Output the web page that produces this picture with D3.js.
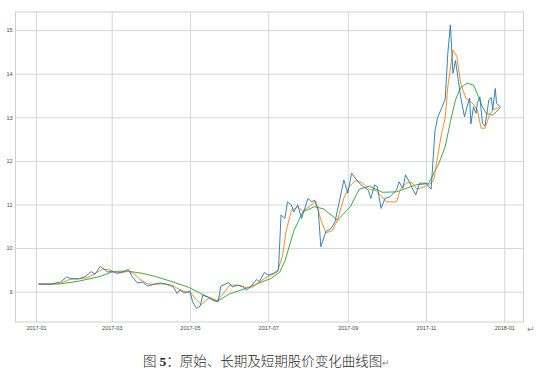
<!DOCTYPE html>
<html>
<head>
<meta charset="utf-8">
<script src="https://cdnjs.cloudflare.com/ajax/libs/d3/7.8.5/d3.min.js"></script>
<style>
  body { margin: 0; background: #fff; }
  svg { display: block; }
  .tick text { font-family: "Liberation Sans", Arial, sans-serif; font-size: 5.5px; fill: #444; }
</style>
</head>
<body>
<svg id="chart" width="543" height="377"></svg>
<script>
  // raw closing price
  var rawDates = ["2017-01-03","2017-01-12","2017-01-20","2017-01-25","2017-01-27","2017-02-03","2017-02-08","2017-02-13",
    "2017-02-16","2017-02-20","2017-02-22","2017-02-26","2017-03-01","2017-03-05","2017-03-09","2017-03-14","2017-03-17",
    "2017-03-21","2017-03-25","2017-03-29","2017-04-04","2017-04-08","2017-04-13","2017-04-18","2017-04-21","2017-04-23",
    "2017-04-27","2017-05-01","2017-05-03","2017-05-06","2017-05-09","2017-05-11","2017-05-15","2017-05-19","2017-05-23",
    "2017-05-25","2017-05-31","2017-06-03","2017-06-07","2017-06-11","2017-06-14","2017-06-17","2017-06-22","2017-06-24",
    "2017-06-28","2017-07-01","2017-07-05","2017-07-09","2017-07-11","2017-07-14","2017-07-16","2017-07-19","2017-07-21",
    "2017-07-24","2017-07-27","2017-08-01","2017-08-04","2017-08-06","2017-08-09","2017-08-11","2017-08-15","2017-08-19",
    "2017-08-22","2017-08-24","2017-08-27","2017-08-29","2017-09-01","2017-09-04","2017-09-06","2017-09-09","2017-09-13",
    "2017-09-17","2017-09-19","2017-09-22","2017-09-24","2017-09-27","2017-09-30","2017-10-04","2017-10-09","2017-10-11",
    "2017-10-14","2017-10-16","2017-10-19","2017-10-22","2017-10-24","2017-10-27","2017-11-01","2017-11-05","2017-11-07",
    "2017-11-08","2017-11-10","2017-11-13","2017-11-16","2017-11-18","2017-11-20","2017-11-22","2017-11-24","2017-11-26",
    "2017-11-28","2017-12-01","2017-12-03","2017-12-05","2017-12-06","2017-12-08","2017-12-10","2017-12-11","2017-12-13",
    "2017-12-15","2017-12-17","2017-12-20","2017-12-22","2017-12-23","2017-12-25","2017-12-26","2017-12-29"];
  var rawValues = [9.18,9.17,9.22,9.34,9.31,9.29,9.34,9.46,
    9.40,9.58,9.54,9.45,9.47,9.42,9.45,9.51,9.35,
    9.20,9.22,9.13,9.18,9.20,9.17,9.11,8.96,9.04,
    8.97,9.02,8.77,8.62,8.67,8.92,8.88,8.80,8.77,
    9.12,9.21,9.11,9.15,9.12,9.04,9.11,9.28,9.23,
    9.44,9.38,9.42,9.50,10.76,10.68,11.06,10.99,10.83,
    10.99,10.68,11.14,11.06,11.10,10.87,10.03,10.38,10.45,
    10.60,10.87,11.29,11.56,11.26,11.72,11.64,11.52,11.41,
    11.33,11.14,11.45,11.41,10.91,11.14,11.18,11.33,11.52,
    11.37,11.68,11.52,11.33,11.22,11.49,11.49,11.35,12.25,
    12.69,12.99,13.20,13.42,14.47,15.12,14.01,14.30,13.89,
    13.47,13.01,13.24,13.44,12.85,13.24,13.09,13.32,13.47,
    12.86,12.80,13.40,13.45,13.17,13.66,13.32,13.24];

  // short term average
  var shortDates = ["2017-01-03","2017-01-12","2017-01-20","2017-01-27","2017-02-03","2017-02-10","2017-02-16","2017-02-22",
    "2017-02-27","2017-03-03","2017-03-08","2017-03-14","2017-03-18","2017-03-23","2017-03-29","2017-04-04","2017-04-10",
    "2017-04-17","2017-04-21","2017-04-26","2017-05-02","2017-05-06","2017-05-10","2017-05-13","2017-05-17","2017-05-22",
    "2017-05-26","2017-06-01","2017-06-07","2017-06-13","2017-06-18","2017-06-23","2017-06-28","2017-07-03","2017-07-08",
    "2017-07-12","2017-07-15","2017-07-19","2017-07-24","2017-07-28","2017-08-02","2017-08-07","2017-08-11","2017-08-15",
    "2017-08-20","2017-08-24","2017-08-29","2017-09-02","2017-09-07","2017-09-12","2017-09-18","2017-09-23","2017-09-27",
    "2017-10-01","2017-10-09","2017-10-12","2017-10-17","2017-10-21","2017-10-25","2017-10-30","2017-11-03","2017-11-07",
    "2017-11-10","2017-11-13","2017-11-16","2017-11-18","2017-11-22","2017-11-25","2017-11-28","2017-12-02","2017-12-07",
    "2017-12-11","2017-12-14","2017-12-17","2017-12-20","2017-12-23","2017-12-27","2017-12-29"];
  var shortValues = [9.18,9.17,9.19,9.28,9.30,9.32,9.42,9.52,
    9.50,9.46,9.43,9.47,9.42,9.28,9.18,9.17,9.18,
    9.15,9.08,9.01,8.96,8.82,8.70,8.80,8.86,8.80,
    8.92,9.15,9.15,9.10,9.09,9.20,9.30,9.38,9.45,
    9.80,10.40,10.85,10.95,10.85,10.95,11.08,10.65,10.35,
    10.40,10.65,11.15,11.40,11.55,11.50,11.35,11.32,11.20,
    11.06,11.06,11.35,11.50,11.50,11.35,11.40,11.45,11.55,
    12.10,12.60,13.00,13.70,14.54,14.40,13.78,13.44,13.33,
    13.17,12.75,12.75,13.01,13.17,13.22,13.25];

  // long term average
  var longDates = ["2017-01-03","2017-01-20","2017-02-03","2017-02-20","2017-03-01","2017-03-06","2017-03-14","2017-03-25",
    "2017-04-04","2017-04-18","2017-04-30","2017-05-12","2017-05-22","2017-06-01","2017-06-14","2017-06-24","2017-07-03",
    "2017-07-10","2017-07-14","2017-07-21","2017-07-28","2017-08-06","2017-08-13","2017-08-19","2017-08-24","2017-09-03",
    "2017-09-10","2017-09-18","2017-09-28","2017-10-09","2017-10-24","2017-11-03","2017-11-11","2017-11-16","2017-11-20",
    "2017-11-24","2017-11-28","2017-12-03","2017-12-08","2017-12-12","2017-12-15","2017-12-18","2017-12-23","2017-12-29"];
  var longValues = [9.17,9.18,9.24,9.35,9.45,9.47,9.47,9.42,
    9.35,9.22,9.10,8.92,8.78,8.95,9.08,9.20,9.30,
    9.45,9.70,10.40,10.83,10.95,10.90,10.76,10.64,10.95,
    11.35,11.42,11.28,11.29,11.45,11.48,11.94,12.33,12.90,
    13.40,13.68,13.78,13.74,13.47,13.24,13.09,13.05,13.22];

  var yTicks = [9, 10, 11, 12, 13, 14, 15];
  var captionText = "原始、长期及短期股价变化曲线图";

  var parse = d3.timeParse("%Y-%m-%d");

  function to_points(dates, values) {
    var pts = [];
    for (var i = 0; i < dates.length; i++) {
      pts.push({ date: parse(dates[i]), value: values[i] });
    }
    return pts;
  }

  var series = [
    { name: "raw", color: "#1f77b4", points: to_points(rawDates, rawValues) },
    { name: "short", color: "#ff7f0e", points: to_points(shortDates, shortValues) },
    { name: "long", color: "#2ca02c", points: to_points(longDates, longValues) }
  ];

  var plotLeft = 15.5, plotRight = 523.5, plotTop = 12, plotBottom = 322;

  var x = d3.scaleTime()
    .domain([parse("2016-12-16"), parse("2018-01-16")])
    .range([plotLeft, plotRight]);

  var y = d3.scaleLinear()
    .domain([8.305, 15.415])
    .range([plotBottom, plotTop]);

  var svg = d3.select("#chart");

  // grid
  var xAxis = d3.axisBottom(x)
    .ticks(d3.timeMonth.every(2))
    .tickFormat(d3.timeFormat("%Y-%m"))
    .tickSize(-(plotBottom - plotTop))
    .tickPadding(4);

  var yAxis = d3.axisLeft(y)
    .tickValues(yTicks)
    .tickFormat(d3.format("d"))
    .tickSize(-(plotRight - plotLeft))
    .tickPadding(3);

  var gx = svg.append("g").attr("transform", "translate(0," + plotBottom + ")").call(xAxis);
  var gy = svg.append("g").attr("transform", "translate(" + plotLeft + ",0)").call(yAxis);

  gx.select(".domain").remove();
  gy.select(".domain").remove();
  svg.selectAll(".tick line").attr("stroke", "#d6d6d6").attr("stroke-width", 1);

  svg.append("rect")
    .attr("x", plotLeft).attr("y", plotTop)
    .attr("width", plotRight - plotLeft).attr("height", plotBottom - plotTop)
    .attr("fill", "none").attr("stroke", "#cfcfcf").attr("stroke-width", 1);

  var line = d3.line()
    .x(function(d) { return x(d.date); })
    .y(function(d) { return y(d.value); });

  // long average first so raw stays on top like the picture
  svg.selectAll("path.series")
    .data(series.slice().reverse())
    .enter()
    .append("path")
    .attr("class", "series")
    .attr("fill", "none")
    .attr("stroke", function(d) { return d.color; })
    .attr("stroke-width", 0.9)
    .attr("stroke-linejoin", "round")
    .attr("d", function(d) { return line(d.points); });

  // word paragraph marks
  svg.append("text")
    .attr("x", 527).attr("y", 332)
    .attr("font-family", "DejaVu Sans").attr("font-size", "9px").attr("fill", "#888")
    .text("↵");

  var cap = svg.append("text")
    .attr("x", 143).attr("y", 366)
    .attr("font-family", "'Noto Sans CJK SC', sans-serif")
    .attr("font-weight", 300)
    .attr("font-size", "13.5px").attr("fill", "#222");
  cap.append("tspan").text("图 ");
  cap.append("tspan").attr("font-family", "'Liberation Serif', serif").attr("font-weight", "bold").text("5");
  cap.append("tspan").text("：" + captionText);
  cap.append("tspan").attr("font-family", "DejaVu Sans").attr("font-size", "9px").attr("fill", "#888").text("↵");
</script>
</body>
</html>
